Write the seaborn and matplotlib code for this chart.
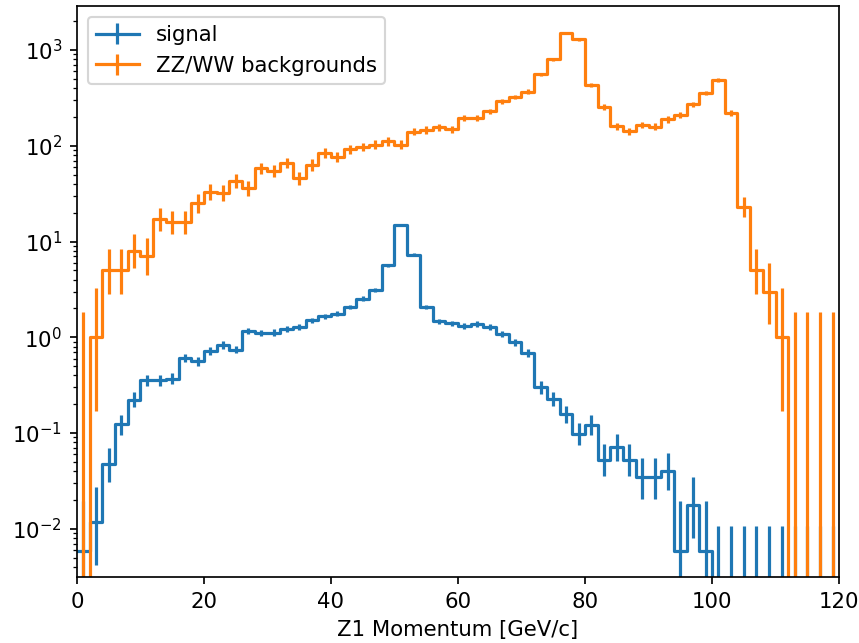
import numpy as np
import pandas as pd
import seaborn as sns
import matplotlib.pyplot as plt

# ----- Data: bin contents (2 GeV/c bins, 0-120) -----
BIN_EDGES = list(range(0, 122, 2))

SIGNAL = [0.0059, 0.0118, 0.047, 0.123, 0.223, 0.355, 0.355, 0.37, 0.61, 0.56,
          0.72, 0.83, 0.745, 1.16, 1.10, 1.12, 1.22, 1.27, 1.5, 1.66,
          1.77, 2.07, 2.54, 3.1, 5.66, 15.0, 7.3, 2.07, 1.47, 1.40,
          1.32, 1.38, 1.28, 1.09, 0.89, 0.685, 0.30, 0.228, 0.157, 0.098,
          0.122, 0.0525, 0.071, 0.0525, 0.0345, 0.0345, 0.0406, 0.0059, 0.0177, 0.0059,
          0, 0, 0, 0, 0, 0, 0, 0, 0, 0]

BACKGROUND = [0, 1, 5, 5, 8, 7, 17, 16, 16, 25,
              33, 32, 43, 36, 58, 55, 66, 46, 63, 84,
              77, 92, 97, 103, 111, 103, 140, 146, 156, 149,
              195, 196, 228, 292, 322, 368, 555, 804, 1500, 1290,
              430, 255, 160, 142, 165, 158, 188, 210, 272, 355,
              490, 218, 23, 5, 3, 1, 0, 0, 0, 0]

# per-event weights of the two samples (used for the Poisson error bars)
SIGNAL_WEIGHT = 0.0059
BACKGROUND_WEIGHT = 1.0

LABELS = ["signal", "ZZ/WW backgrounds"]
COLORS = ["tab:blue", "tab:orange"]


# ----- Helpers -----
def poisson_errors(values, weight):
    # Garwood interval on the event count, Wilson-Hilferty approximation
    n = np.asarray(values, dtype=float) / weight
    safe = np.maximum(n, 1e-9)
    lo = np.where(n > 0, safe * np.clip(1 - 1 / (9 * safe) - 1 / (3 * np.sqrt(safe)), 0, None) ** 3, 0.0)
    m = n + 1
    hi = m * (1 - 1 / (9 * m) + 1 / (3 * np.sqrt(m))) ** 3
    return (n - lo) * weight, (hi - n) * weight


def draw_hist(ax, values, weight, color):
    edges = np.array(BIN_EDGES, dtype=float)
    centers = (edges[:-1] + edges[1:]) / 2
    df = pd.DataFrame({"x": centers, "w": values})
    sns.histplot(data=df, x="x", weights="w", bins=BIN_EDGES, element="step",
                 fill=False, color=color, linewidth=1.5, ax=ax)
    lo, hi = poisson_errors(values, weight)
    ax.errorbar(centers, values, yerr=[lo, hi], fmt="none", ecolor=color, elinewidth=1.5)


def main():
    fig = plt.figure(figsize=(860 / 153, 643 / 153), dpi=153)
    ax = fig.add_axes([0.0895, 0.1026, 0.8861, 0.8881])

    draw_hist(ax, SIGNAL, SIGNAL_WEIGHT, COLORS[0])
    draw_hist(ax, BACKGROUND, BACKGROUND_WEIGHT, COLORS[1])

    ax.set_yscale("log", nonpositive="clip")
    ax.set_xlim(0, 120)
    ax.set_ylim(3.14e-3, 2.88e3)
    ax.set_xlabel("Z1 Momentum [GeV/c]")
    ax.set_ylabel("")

    handles = [ax.errorbar([], [], yerr=[], color=c, lw=1.5, label=lab)
               for c, lab in zip(COLORS, LABELS)]
    ax.legend(handles=handles, labels=LABELS, loc="upper left")

    fig.savefig("out.png", dpi=153)
    plt.close(fig)


if __name__ == "__main__":
    main()
